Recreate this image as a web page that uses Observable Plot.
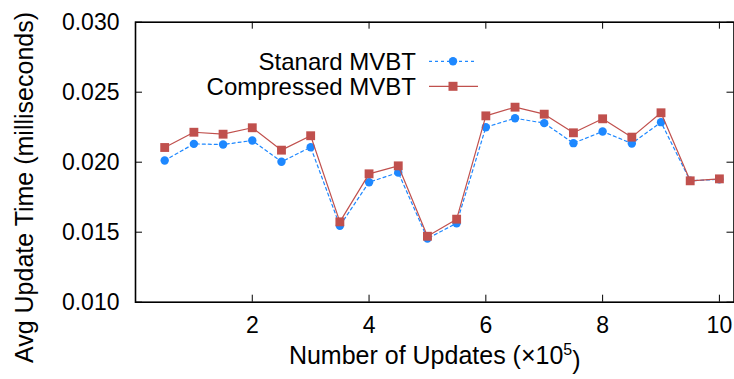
<!DOCTYPE html>
<html><head><meta charset="utf-8">
<script src="https://cdn.jsdelivr.net/npm/d3@7"></script>
<script src="https://cdn.jsdelivr.net/npm/@observablehq/plot@0.6"></script>
<style>body{margin:0;background:#fff}</style>
</head><body><div id="chart"></div>
<script>
const updates = [0.5,1,1.5,2,2.5,3,3.5,4,4.5,5,5.5,6,6.5,7,7.5,8,8.5,9,9.5,10];
const standard = [0.02012,0.02131,0.02126,0.02155,0.02003,0.02107,0.01546,0.01857,0.01926,0.01455,0.01564,0.02250,0.02314,0.02279,0.02136,0.02219,0.02134,0.02286,0.01867,0.01878];
const compressed = [0.02105,0.02214,0.02200,0.02246,0.02086,0.02189,0.01574,0.01917,0.01974,0.01471,0.01593,0.02331,0.02393,0.02343,0.02210,0.02310,0.02179,0.02353,0.01867,0.01881];
const xTicks = [2,4,6,8,10];
const yTicks = [0.010,0.015,0.020,0.025,0.030];
const seriesNames = ["Stanard MVBT","Compressed MVBT"];
const xLabel = "Number of Updates (×10⁵)";
const yLabel = "Avg Update Time (milliseconds)";

const blue = "#1e88ff", red = "#c0504d";
const font = "'Liberation Sans', Arial, sans-serif";
const W = 734, H = 379, mL = 135, mR = 0.5, mT = 21.7, mB = 77.3;
const plotH = H - mT - mB;
const plotW = W - mL - mR;
const tickLen = 7;

const std = updates.map((x, i) => ({x, y: standard[i]}));
const cmp = updates.map((x, i) => ({x, y: compressed[i]}));

const chart = Plot.plot({
  width: W, height: H,
  marginLeft: mL, marginRight: mR, marginTop: mT, marginBottom: mB,
  style: {fontFamily: font, background: "white", color: "black"},
  x: {domain: [0, 10.25]},
  y: {domain: [0.010, 0.030]},
  marks: [
    Plot.axisX(xTicks, {tickSize: 0, tickPadding: 14, fontSize: 23, label: null, tickFormat: d => String(d)}),
    Plot.axisY(yTicks, {tickSize: 0, tickPadding: 16, fontSize: 23, label: null, tickFormat: d3.format(".3f")}),
    Plot.tickX(xTicks, {x: d => d, insetTop: plotH - tickLen, stroke: "black", strokeWidth: 1}),
    Plot.tickX(xTicks, {x: d => d, insetBottom: plotH - tickLen, stroke: "black", strokeWidth: 1}),
    Plot.tickY(yTicks, {y: d => d, insetRight: plotW - tickLen, stroke: "black", strokeWidth: 1}),
    Plot.tickY(yTicks, {y: d => d, insetLeft: plotW - tickLen, stroke: "black", strokeWidth: 1}),
    Plot.line(std, {x: "x", y: "y", stroke: blue, strokeWidth: 1.2, strokeDasharray: "3,3"}),
    Plot.dot(std, {x: "x", y: "y", r: 4.2, fill: blue, stroke: "none"}),
    Plot.line(cmp, {x: "x", y: "y", stroke: red, strokeWidth: 1.2}),
    Plot.dot(cmp, {x: "x", y: "y", r: 5, symbol: "square", fill: red, stroke: "none"}),
    Plot.frame({stroke: "black", strokeWidth: 1.6}),
    Plot.text([xLabel], {text: d => d, frameAnchor: "bottom", dy: 54, fontSize: 25, lineAnchor: "middle"})
  ]
});

const svg = d3.select(chart);

// superscript in x label
svg.selectAll("text").filter(function() { return this.textContent === xLabel; }).each(function() {
  const t = d3.select(this);
  t.text(null);
  t.append("tspan").text("Number of Updates (×10");
  t.append("tspan").attr("dy", "-0.55em").attr("font-size", "16").text("5");
  t.append("tspan").attr("dy", "0.55em").text(")");
});

// y label
svg.append("text")
  .attr("transform", "translate(24,187.5) rotate(-90)")
  .attr("text-anchor", "middle")
  .attr("dominant-baseline", "central")
  .attr("font-family", font)
  .attr("font-size", 25)
  .attr("fill", "black")
  .text(yLabel);

// legend
const lg = svg.append("g").attr("font-family", font).attr("font-size", 24).attr("fill", "black");
const rows = [{name: seriesNames[0], y: 61.3, base: 70}, {name: seriesNames[1], y: 86.3, base: 95}];
lg.append("text").attr("x", 416).attr("y", rows[0].base).attr("text-anchor", "end").text(rows[0].name);
lg.append("text").attr("x", 416).attr("y", rows[1].base).attr("text-anchor", "end").text(rows[1].name);
lg.append("line").attr("x1", 429).attr("x2", 476).attr("y1", rows[0].y).attr("y2", rows[0].y).attr("stroke", blue).attr("stroke-width", 1.2).attr("stroke-dasharray", "3,3");
lg.append("circle").attr("cx", 453).attr("cy", rows[0].y).attr("r", 4.2).attr("fill", blue);
lg.append("line").attr("x1", 429).attr("x2", 478).attr("y1", rows[1].y).attr("y2", rows[1].y).attr("stroke", red).attr("stroke-width", 1.2);
lg.append("rect").attr("x", 448.5).attr("y", rows[1].y - 4.5).attr("width", 9).attr("height", 9).attr("fill", red);

document.getElementById("chart").appendChild(chart);
</script>
</body></html>
